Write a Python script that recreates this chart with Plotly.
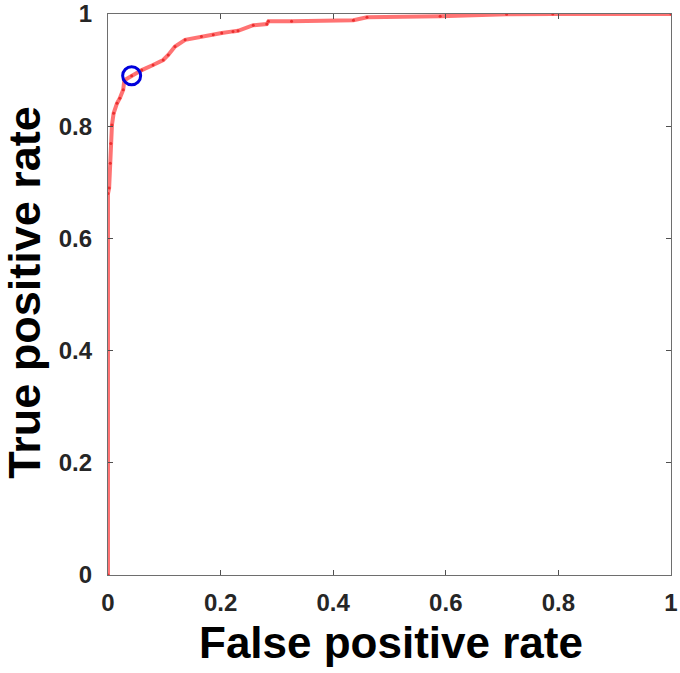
import plotly.graph_objects as go

fpr = [0, 0, 0.002, 0.004, 0.005, 0.007, 0.010, 0.016, 0.021, 0.027, 0.029, 0.042,
       0.060, 0.080, 0.098, 0.107, 0.119, 0.137, 0.166, 0.187, 0.202, 0.222, 0.231,
       0.258, 0.282, 0.285, 0.326, 0.436, 0.460, 0.590, 0.708, 0.79, 1.0]
tpr = [0, 0.68, 0.69, 0.734, 0.769, 0.802, 0.823, 0.841, 0.85, 0.865, 0.882, 0.89,
       0.90, 0.909, 0.918, 0.927, 0.942, 0.954, 0.96, 0.963, 0.966, 0.969, 0.970,
       0.98, 0.982, 0.987, 0.987, 0.989, 0.994, 0.996, 0.9995, 1.0, 1.0]
opt_fpr = [0.042]
opt_tpr = [0.89]

tick_vals = [0, 0.2, 0.4, 0.6, 0.8, 1]
tick_text = ["0", "0.2", "0.4", "0.6", "0.8", "1"]

FONT = "Liberation Sans"

fig = go.Figure()
fig.add_trace(go.Scatter(
    x=fpr, y=tpr, mode="lines+markers",
    line=dict(color="rgba(255,40,40,0.65)", width=4),
    marker=dict(size=3, color="rgba(230,30,30,0.8)"),
    showlegend=False,
))
fig.add_trace(go.Scatter(
    x=opt_fpr, y=opt_tpr, mode="markers",
    marker=dict(symbol="circle-open", size=18, color="rgb(0,0,220)",
                line=dict(width=3, color="rgb(0,0,220)")),
    showlegend=False, cliponaxis=False,
))

axis_common = dict(
    range=[0, 1], tickvals=tick_vals, ticktext=tick_text,
    showgrid=False, zeroline=False, automargin=False,
    showline=True, linecolor="rgb(110,110,110)", linewidth=1.3, mirror="ticks",
    ticks="inside", ticklen=5, tickcolor="rgb(80,80,80)", tickwidth=1,
    tickfont=dict(family=FONT, size=24, color="rgb(38,38,38)", weight="bold"),
)
fig.update_xaxes(**axis_common)
fig.update_yaxes(**axis_common)
fig.update_yaxes(ticklabelstandoff=10)
fig.update_xaxes(ticklabelstandoff=6)

fig.add_annotation(
    text="<b>False positive rate</b>", xref="paper", yref="paper",
    x=0.502, y=0, xanchor="center", yanchor="middle", yshift=-67,
    showarrow=False, font=dict(family=FONT, size=44, color="black"),
)
fig.add_annotation(
    text="<b>True positive rate</b>", xref="paper", yref="paper",
    x=0, y=0.503, xanchor="center", yanchor="middle", xshift=-83,
    textangle=-90, showarrow=False, font=dict(family=FONT, size=45, color="black"),
)

fig.update_layout(
    width=680, height=673,
    margin=dict(l=108, r=9, t=14, b=98, autoexpand=False),
    paper_bgcolor="white", plot_bgcolor="white",
)

fig.write_html("out.html", config={"displayModeBar": False},
               post_script="document.body.style.margin='0';document.body.style.overflow='hidden';")
